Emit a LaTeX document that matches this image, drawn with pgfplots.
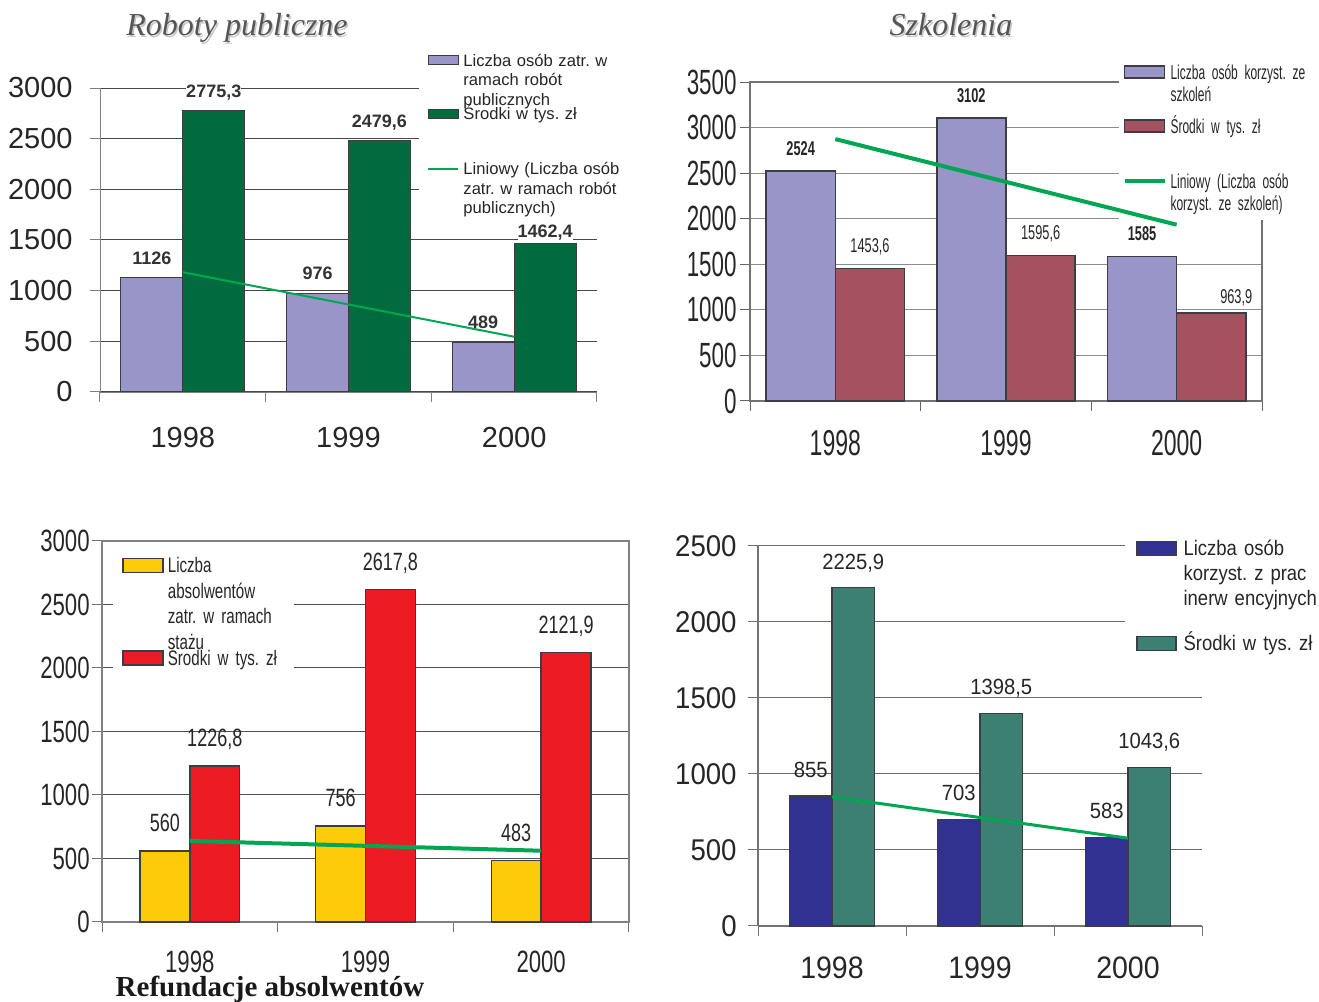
\documentclass[border=0pt]{standalone}
\usepackage{fontspec}
\usepackage{pgfplots}
\pgfplotsset{compat=1.18}
\setmainfont{Liberation Sans}
\newfontfamily\arial{Liberation Sans}
\newfontfamily\narA{Liberation Sans}[FakeStretch=0.64]
\newfontfamily\narL{Liberation Sans}[FakeStretch=0.6]
\newfontfamily\narB{Liberation Sans}[FakeStretch=0.72]
\newfontfamily\narC{Liberation Sans}[FakeStretch=0.92]
\newfontfamily\narD{Liberation Sans}[FakeStretch=0.88]
\newfontfamily\tnr{Liberation Serif}

\definecolor{lav}{RGB}{154,149,201}
\definecolor{dgreen}{RGB}{0,108,62}
\definecolor{trend}{RGB}{0,166,81}
\definecolor{maroon}{RGB}{165,82,96}
\definecolor{yel}{RGB}{252,204,10}
\definecolor{rd}{RGB}{236,28,36}
\definecolor{navy}{RGB}{48,49,145}
\definecolor{tealg}{RGB}{60,128,113}
\definecolor{ttl}{RGB}{85,85,85}
\definecolor{edge}{RGB}{60,60,68}

\pgfplotsset{
  panel/.style={
    scale only axis, anchor=south west, clip=false,
    xmin=0.5, xmax=3.5, ymin=0,
    xtick={0.5,1.5,2.5,3.5}, xticklabels={},
    extra x ticks={1,2,3}, extra x tick labels={1998,1999,2000},
    extra x tick style={major tick length=0pt, grid=none},
    tick align=outside, tick pos=left, major tick length=5pt,
    ymajorgrids, scaled y ticks=false,
    /pgf/number format/assume math mode=true,
    /pgf/number format/1000 sep={},
    yticklabel style={anchor=east, inner sep=0pt},
    xticklabel style={anchor=north, inner sep=0pt},
  },
  barlegA/.style={legend image code/.code={\draw[##1] (0pt,0.7pt) rectangle (15pt,5.2pt);}},
  linlegA/.style={legend image code/.code={\draw[##1] (0pt,3pt) -- (15pt,3pt);}},
  barlegB/.style={legend image code/.code={\draw[##1] (0pt,0.6pt) rectangle (20pt,6.6pt);}},
  linlegB/.style={legend image code/.code={\draw[##1] (0pt,3.6pt) -- (20pt,3.6pt);}},
  barlegC/.style={legend image code/.code={\draw[##1] (0pt,0.25pt) rectangle (20pt,7.25pt);}},
  barlegD/.style={legend image code/.code={\draw[##1] (0pt,0.26pt) rectangle (19.5pt,7.26pt);}},
}

\begin{document}
\frenchspacing
\begin{tikzpicture}[x=0.5pt,y=0.5pt]
\useasboundingbox (0,0) rectangle (1319,1002);

% ---------------- Panel 1: Roboty publiczne
\begin{axis}[panel,
  at={(50pt,305pt)}, width=248.5pt, height=152pt, ymax=3000,
  ytick={0,500,...,3000},
  axis x line*=bottom, axis y line*=left,
  axis line style={-, draw=black!50},
  grid style={black!72, line width=0.5pt},
  tick style={black!50, line width=0.5pt},
  yticklabel style={font=\arial\fontsize{14.5}{15}\selectfont, text=black!85, xshift=-8.5pt},
  xticklabel style={font=\arial\fontsize{14.5}{15}\selectfont, text=black!85, yshift=-17.5pt},
  legend style={at={(0.642,1.13)}, anchor=north west, draw=none, fill=white,
    inner xsep=4pt, inner ysep=2pt, row sep=0pt, column sep=1.5pt,
    font=\arial\fontsize{8.3}{9.75}\selectfont, text=black!85,
    cells={anchor=base west},
    nodes={inner sep=0.5pt, text width=80pt, align=left}},
]
\addplot[ybar, bar width=0.3735, bar shift=-0.18675, fill=lav, draw=edge, line width=0.5pt,
  nodes near coords, point meta=explicit symbolic,
  every node near coord/.append style={font=\arial\bfseries\fontsize{9}{9}\selectfont, text=black!80, anchor=base, inner sep=0pt, yshift=6.8pt, xshift=-15.47pt},
  barlegA]
  table[x=x, y=y, meta=lab]{
    x y lab
    1 1126 1126
    2 976 976
    3 489 489
  };
\addlegendentry{Liczba osób zatr. w\\ramach robót\\publicznych}
\addplot[ybar, bar width=0.3735, bar shift=0.18675, fill=dgreen, draw=edge, line width=0.5pt,
  nodes near coords, point meta=explicit symbolic,
  visualization depends on={value \thisrow{dy} \as \dy},
  every node near coord/.append style={font=\arial\bfseries\fontsize{9}{9}\selectfont, text=black!80, fill=white, anchor=base, inner sep=0pt, yshift=\dy, xshift=15.47pt},
  barlegA]
  table[x=x, y=y, meta=lab]{
    x y lab dy
    1 2775.3 2775,3 6.8pt
    2 2479.6 2479,6 6.8pt
    3 1462.4 1462,4 3.4pt
  };
\addlegendentry{\rule{0pt}{24.35pt}Środki w tys. zł}
\addplot[trend, line width=1pt, mark=none, linlegA]
  coordinates {(1,1182.17) (3,545.17)};
\addlegendentry{\rule{0pt}{24.85pt}Liniowy (Liczba osób\\zatr. w ramach robót\\publicznych)}
\addlegendimage{empty legend}
\addlegendentry{\rule{0pt}{14.5pt}}
\end{axis}

% ---------------- Panel 2: Szkolenia
\begin{axis}[panel,
  at={(375pt,300.5pt)}, width=256pt, height=159.5pt, ymax=3500,
  ytick={0,500,...,3500},
  axis line style={draw=black!55, line width=0.6pt},
  grid style={black!45, line width=0.5pt},
  tick style={black!60, line width=0.5pt},
  yticklabel style={font=\narA\fontsize{17.5}{18}\selectfont, text=black!85, xshift=-1.5pt},
  xticklabel style={font=\narA\fontsize{18}{18}\selectfont, text=black!85, yshift=-14.5pt},
  legend style={at={(0.719,1.072)}, anchor=north west, draw=none, fill=white,
    inner xsep=2pt, inner ysep=2pt, row sep=0pt, column sep=1.5pt,
    font=\narL\fontsize{10}{11}\selectfont, text=black!85,
    cells={anchor=base west},
    nodes={inner sep=0.5pt, text width=76pt, align=left}},
]
\addplot[ybar, bar width=0.406, bar shift=-0.203, fill=lav, draw=edge, line width=0.8pt,
  nodes near coords, point meta=explicit symbolic,
  every node near coord/.append style={font=\narA\bfseries\fontsize{10}{10}\selectfont, text=black!85, anchor=base, inner sep=0pt, yshift=7.9pt, xshift=-17.32pt},
  barlegB]
  table[x=x, y=y, meta=lab]{
    x y lab
    1 2524 2524
    2 3102 3102
    3 1585 1585
  };
\addlegendentry{Liczba osób korzyst. ze\\szkoleń}
\addplot[ybar, bar width=0.406, bar shift=0.203, fill=maroon, draw=edge, line width=0.8pt,
  nodes near coords, point meta=explicit symbolic,
  visualization depends on={value \thisrow{dy} \as \dy},
  visualization depends on={value \thisrow{dx} \as \dx},
  every node near coord/.append style={font=\narA\fontsize{10}{10}\selectfont, text=black!85, anchor=base, inner sep=0pt, yshift=\dy, xshift=\dx},
  barlegB]
  table[x=x, y=y, meta=lab]{
    x y lab dy dx
    1 1453.6 1453,6 7.9pt 17.32pt
    2 1595.6 1595,6 7.9pt 17.32pt
    3 963.9 963,9 4.95pt 29.8pt
  };
\addlegendentry{\rule{0pt}{24.5pt}Środki w tys. zł}
\addlegendimage{trend, line width=2pt, linlegB}
\addlegendentry{\rule{0pt}{25pt}Liniowy (Liczba osób\\korzyst. ze szkoleń)}
\addlegendimage{empty legend}
\addlegendentry{\rule{0pt}{9.5pt}}
\end{axis}
% trend line of panel 2 drawn above its legend, on the same axes geometry
\begin{axis}[scale only axis, anchor=south west, hide axis, clip=false,
  at={(375pt,300.5pt)}, width=256pt, height=159.5pt,
  xmin=0.5, xmax=3.5, ymin=0, ymax=3500]
\addplot[trend, line width=2pt, mark=none]
  coordinates {(1,2873.17) (3,1934.17)};
\end{axis}

% ---------------- Panel 3: Refundacje absolwentow
\begin{axis}[panel,
  at={(51pt,40pt)}, width=263.5pt, height=190.5pt, ymax=3000,
  ytick={0,500,...,3000},
  axis line style={draw=black!50, line width=0.6pt},
  grid style={black!68, line width=0.5pt},
  tick style={black!55, line width=0.5pt},
  yticklabel style={font=\narB\fontsize{15.4}{16}\selectfont, text=black!85, xshift=-1pt},
  xticklabel style={font=\narB\fontsize{15.4}{16}\selectfont, text=black!85, yshift=-14.5pt},
  legend style={at={(0.021,0.9706)}, anchor=north west, draw=none, fill=white,
    inner xsep=4.5pt, inner ysep=2pt, row sep=0pt, column sep=1.5pt,
    font=\narB\fontsize{10.5}{12.7}\selectfont, text=black!85,
    cells={anchor=base west},
    nodes={inner sep=0.5pt, text width=58pt, align=left}},
]
\addplot[ybar, bar width=0.284, bar shift=-0.142, fill=yel, draw=edge, line width=0.7pt,
  nodes near coords, point meta=explicit symbolic,
  every node near coord/.append style={font=\narB\fontsize{12.5}{12.5}\selectfont, text=black!85, anchor=base, inner sep=0pt, yshift=9.75pt, xshift=-12.47pt},
  barlegC]
  table[x=x, y=y, meta=lab]{
    x y lab
    1 560 560
    2 756 756
    3 483 483
  };
\addlegendentry{Liczba\\absolwentów\\zatr. w ramach\\stażu}
\addplot[ybar, bar width=0.284, bar shift=0.142, fill=rd, draw=edge, line width=0.7pt,
  nodes near coords, point meta=explicit symbolic,
  every node near coord/.append style={font=\narB\fontsize{12.5}{12.5}\selectfont, text=black!85, anchor=base, inner sep=0pt, yshift=9.75pt, xshift=12.47pt},
  barlegC]
  table[x=x, y=y, meta=lab]{
    x y lab
    1 1226.8 1226,8
    2 2617.8 2617,8
    3 2121.9 2121,9
  };
\addlegendentry{\rule{0pt}{43.9pt}Środki w tys. zł}
\addplot[trend, line width=2pt, mark=none, forget plot]
  coordinates {(1,638.17) (3,561.17)};
\end{axis}

% ---------------- Panel 4
\begin{axis}[panel,
  at={(379pt,38pt)}, width=222pt, height=190pt, ymax=2500,
  ytick={0,500,...,2500},
  axis x line*=bottom, axis y line*=left,
  axis line style={-, draw=black!55, line width=0.6pt},
  grid style={black!58, line width=0.5pt},
  tick style={black!55, line width=0.5pt},
  yticklabel style={font=\narC\fontsize{15}{16}\selectfont, text=black!85, xshift=-5.5pt},
  xticklabel style={font=\narC\fontsize{15.5}{16}\selectfont, text=black!85, yshift=-15pt},
  legend style={at={(0.8266,1.029)}, anchor=north west, draw=none, fill=white,
    inner xsep=5.5pt, inner ysep=2pt, row sep=0pt, column sep=3pt,
    font=\narD\fontsize{10.5}{12.5}\selectfont, text=black!85,
    cells={anchor=base west},
    nodes={inner sep=0.5pt, text width=80pt, align=left}},
]
\addplot[ybar, bar width=0.287, bar shift=-0.1435, fill=navy, draw=edge, line width=0.6pt,
  nodes near coords, point meta=explicit symbolic,
  every node near coord/.append style={font=\narC\fontsize{11}{11}\selectfont, text=black!85, anchor=base, inner sep=0pt, yshift=9.25pt, xshift=-10.62pt},
  barlegD]
  table[x=x, y=y, meta=lab]{
    x y lab
    1 855 855
    2 703 703
    3 583 583
  };
\addlegendentry{Liczba osób\\korzyst. z prac\\inerw encyjnych}
\addplot[ybar, bar width=0.287, bar shift=0.1435, fill=tealg, draw=edge, line width=0.6pt,
  nodes near coords, point meta=explicit symbolic,
  every node near coord/.append style={font=\narC\fontsize{11}{11}\selectfont, text=black!85, anchor=base, inner sep=0pt, yshift=9.25pt, xshift=10.62pt},
  barlegD]
  table[x=x, y=y, meta=lab]{
    x y lab
    1 2225.9 2225,9
    2 1398.5 1398,5
    3 1043.6 1043,6
  };
\addlegendentry{\rule{0pt}{44.9pt}Środki w tys. zł}
\addplot[trend, line width=1.5pt, mark=none, forget plot]
  coordinates {(1,849.67) (3,577.67)};
\end{axis}

% ---------------- Titles
\node[anchor=base, font=\tnr\itshape\fontsize{16}{16}\selectfont, text=black!22] at (238.5,964.5) {Roboty publiczne};
\node[anchor=base, font=\tnr\itshape\fontsize{16}{16}\selectfont, text=ttl] at (237,966) {Roboty publiczne};
\node[anchor=base, font=\tnr\itshape\fontsize{16}{16}\selectfont, text=black!22] at (952.5,964.5) {Szkolenia};
\node[anchor=base, font=\tnr\itshape\fontsize{16}{16}\selectfont, text=ttl] at (951,966) {Szkolenia};
\node[anchor=base, font=\tnr\bfseries\fontsize{14.5}{14.5}\selectfont, text=black!90] at (270,5) {Refundacje absolwentów};
\end{tikzpicture}
\end{document}
